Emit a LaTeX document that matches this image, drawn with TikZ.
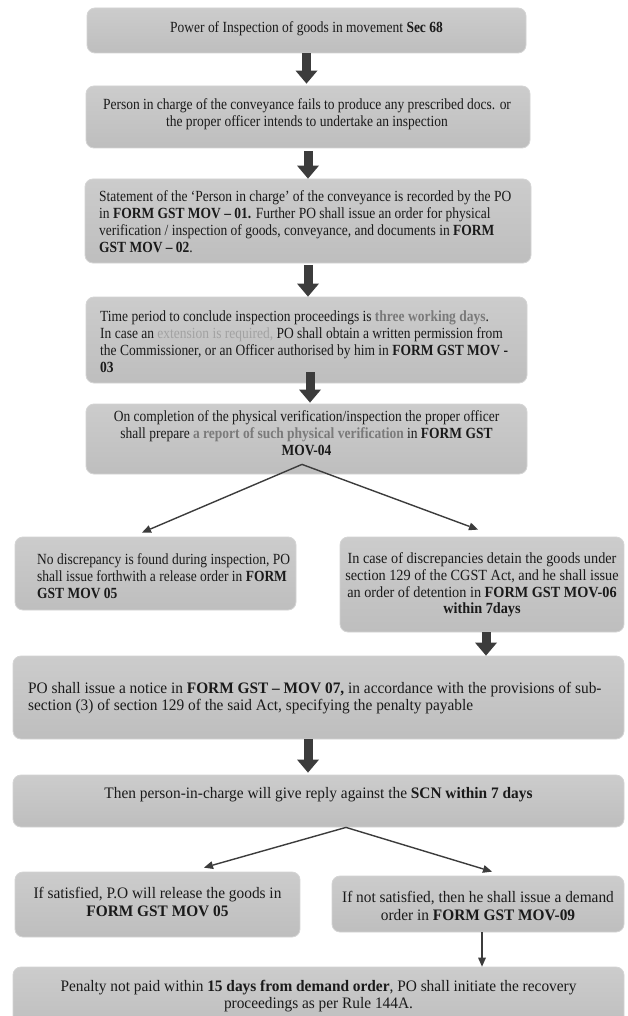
\documentclass[tikz,border=0pt]{standalone}
\usepackage{fontspec}
\setmainfont{Liberation Serif}[FakeStretch=0.87]
\newfontfamily\midfont{Liberation Serif}[FakeStretch=0.92]
\newfontfamily\widefont{Liberation Serif}[FakeStretch=0.96]
\usetikzlibrary{arrows.meta}
\definecolor{boxtop}{HTML}{CCCCCC}
\definecolor{boxbot}{HTML}{BEBEBE}
\definecolor{boxline}{HTML}{D4D4D4}
\definecolor{arrowc}{HTML}{3C3C3C}
\definecolor{txtc}{HTML}{1A1A1A}
\definecolor{hlA}{HTML}{7A7A7A}
\definecolor{hlB}{HTML}{A2A2A2}
\tikzset{
  box/.style={rounded corners=8pt, draw=boxline, line width=0.8pt, top color=boxtop, bottom color=boxbot, inner sep=0pt},
  txt/.style={inner sep=0pt, text=txtc, font=\fontsize{15.5}{17}\selectfont},
  txtm/.style={inner sep=0pt, text=txtc, font=\midfont\fontsize{15.5}{16.8}\selectfont},
  txtw/.style={inner sep=0pt, text=txtc, font=\widefont\fontsize{16}{17.5}\selectfont},
  fat/.style={draw=arrowc, line width=9pt, -{Triangle[width=22pt,length=13pt,line width=0pt]}},
  thin/.style={draw=arrowc, line width=1.4pt, -{Triangle[width=8pt,length=9pt,line width=0pt]}}
}
\begin{document}
\begin{tikzpicture}[x=1pt,y=-1pt]
\useasboundingbox[fill=white] (0,0) rectangle (627,1016);
% boxes
\node[box, minimum width=439pt, minimum height=45pt] (b1) at (306.5,30.5) {};
\node[box, minimum width=444pt, minimum height=62pt] (b2) at (308,117) {};
\node[box, minimum width=446pt, minimum height=84pt] (b3) at (308,221) {};
\node[box, minimum width=441pt, minimum height=86pt] (b4) at (306.5,340) {};
\node[box, minimum width=441pt, minimum height=70pt] (b5) at (306.5,439) {};
\node[box, minimum width=281pt, minimum height=73pt] (bL1) at (155.5,573.5) {};
\node[box, minimum width=284pt, minimum height=95pt] (bR1) at (482,584.5) {};
\node[box, minimum width=611pt, minimum height=83pt] (b6) at (318.5,697.5) {};
\node[box, minimum width=611pt, minimum height=52pt] (b7) at (318.5,801) {};
\node[box, minimum width=285pt, minimum height=65pt] (bL2) at (157.5,904.5) {};
\node[box, minimum width=292pt, minimum height=56pt] (bR2) at (478,904) {};
\node[box, minimum width=611pt, minimum height=63pt] (b8) at (318.5,998.5) {};
% texts
\node[txt] (t1) at (306.5,28.5) {Power of Inspection of goods in movement \textbf{Sec 68}};
\node[txt, align=center] (t2) at (307,114) {Person in charge of the conveyance fails to produce any prescribed docs. or\\the proper officer intends to undertake an inspection};
\node[txt, align=left, anchor=west] (t3) at (99,222) {Statement of the ‘Person in charge’ of the conveyance is recorded by the PO\\in \textbf{FORM GST MOV – 01.} Further PO shall issue an order for physical\\verification / inspection of goods, conveyance, and documents in \textbf{FORM}\\\textbf{GST MOV – 02}.};
\node[txt, align=left, anchor=west] (t4) at (100,342) {Time period to conclude inspection proceedings is \textcolor{hlA}{\textbf{three working days}}.\\In case an \textcolor{hlB}{extension is required,} PO shall obtain a written permission from\\the Commissioner, or an Officer authorised by him in \textbf{FORM GST MOV -}\\\textbf{03}};
\node[txt, align=center] (t5) at (306.5,433) {On completion of the physical verification/inspection the proper officer\\shall prepare \textcolor{hlA}{\textbf{a report of such physical verification}} in \textbf{FORM GST}\\\textbf{MOV-04}};
\node[txt, align=left, anchor=west] (tL1) at (37,576) {No discrepancy is found during inspection, PO\\shall issue forthwith a release order in \textbf{FORM}\\\textbf{GST MOV 05}};
\node[txtm, align=center] (tR1) at (482,585) {In case of discrepancies detain the goods under\\section 129 of the CGST Act, and he shall issue\\an order of detention in \textbf{FORM GST MOV-06}\\\textbf{within 7days}};
\node[txtw, align=left, anchor=west] (t6) at (28,698) {PO shall issue a notice in \textbf{FORM GST – MOV 07,} in accordance with the provisions of sub-\\section (3) of section 129 of the said Act, specifying the penalty payable};
\node[txtw] (t7) at (318.5,795) {Then person-in-charge will give reply against the \textbf{SCN within 7 days}};
\node[txtw, align=center] (tL2) at (157.5,902) {If satisfied, P.O will release the goods in\\\textbf{FORM GST MOV 05}};
\node[txtw, align=center] (tR2) at (478,906) {If not satisfied, then he shall issue a demand\\order in \textbf{FORM GST MOV-09}};
\node[txtw, align=center] (t8) at (318.5,996) {Penalty not paid within \textbf{15 days from demand order}, PO shall initiate the recovery\\proceedings as per Rule 144A.};
% fat arrows
\draw[fat] (b1.south) -- ([yshift=2pt]b1.south |- b2.north);
\draw[fat] ([yshift=-3pt]b2.south) -- (b2.south |- b3.north);
\draw[fat] ([yshift=-2pt]b3.south) -- (b3.south |- b4.north);
\draw[fat] ([xshift=3.5pt,yshift=11pt]b4.south) -- ([xshift=3.5pt,yshift=1pt]b5.north);
\draw[fat] ([xshift=4pt]bR1.south) -- ([xshift=4pt]bR1.south |- b6.north);
\draw[fat] ([xshift=-10.5pt]b6.south) -- ([xshift=-10.5pt,yshift=2pt]b7.north);
% split arrows
\coordinate (s1) at ([xshift=-4.5pt,yshift=10pt]b5.south);
\draw[thin] (s1) -- ([xshift=-13.5pt,yshift=4pt]bL1.north);
\draw[thin] (s1) -- ([xshift=-4pt,yshift=7pt]bR1.north);
\coordinate (s2) at ([xshift=27.5pt]b7.south);
\draw[thin] (s2) -- ([xshift=46.5pt,yshift=4pt]bL2.north);
\draw[thin] (s2) -- ([xshift=14pt,yshift=4pt]bR2.north);
\draw[thin] ([xshift=4pt]bR2.south) -- ([xshift=4pt]bR2.south |- b8.north);
\end{tikzpicture}
\end{document}
